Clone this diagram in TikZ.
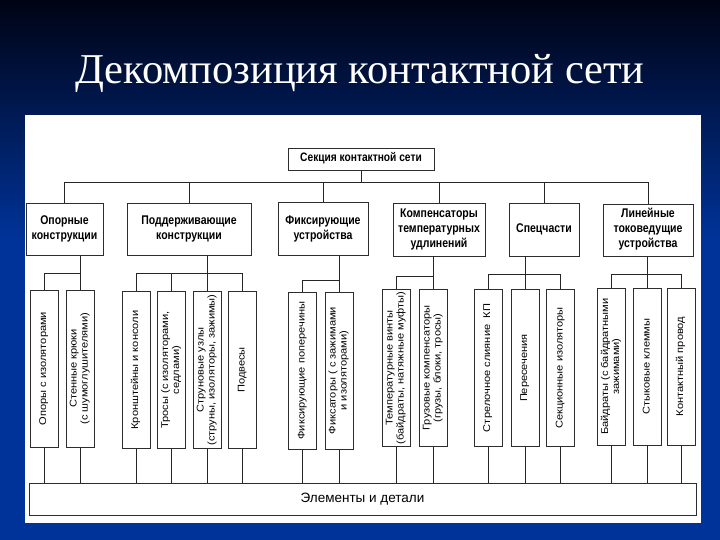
\documentclass[tikz,border=0pt]{standalone}
\usepackage{fontspec}
\usepackage{graphicx}
\setmainfont{Liberation Serif}
\newfontfamily\arialfont{Liberation Sans}
\definecolor{navytop}{RGB}{0,3,20}
\definecolor{navybot}{RGB}{0,51,153}
\definecolor{boxedge}{RGB}{45,45,45}
\newcommand{\vlabel}[1]{\rotatebox{90}{\scalebox{1.13}[1]{\begin{tabular}{@{}c@{}}#1\end{tabular}}}}
\newcommand{\hlabel}[1]{\scalebox{1}[1.2]{\begin{tabular}{@{}c@{}}#1\end{tabular}}}
\begin{document}
\begin{tikzpicture}[x=1pt,y=-1pt,
  box/.style={draw=boxedge,line width=0.8pt,fill=white,inner sep=0pt,font=\arialfont\bfseries\fontsize{10.5}{12.5}\selectfont},
  vbox/.style={draw=boxedge,line width=0.8pt,fill=white,inner sep=0pt,minimum width=28,minimum height=157,font=\arialfont\fontsize{9.8}{11}\selectfont},
  link/.style={draw=black!85,line width=0.8pt}]
 \useasboundingbox (0,0) rectangle (720,540);
 \fill[navybot] (0,0) rectangle (720,540);
 \shade[top color=navytop,bottom color=navybot] (0,0) rectangle (720,240);
 \node[text=white,anchor=base,font=\fontsize{42.5}{44}\selectfont] (title) at (360,84) {Декомпозиция контактной сети};
 \fill[white] (25,115) rectangle (701,523);
 \node[box,minimum width=146,minimum height=22,font=\arialfont\bfseries\fontsize{10.2}{12}\selectfont] (sec) at (361,159) {\hlabel{Секция контактной сети}};
 \node[box,minimum width=77,minimum height=52] (op) at (64.5,229) {\hlabel{Опорные\\конструкции}};
 \node[box,minimum width=124,minimum height=52] (sup) at (189,229) {\hlabel{Поддерживающие\\конструкции}};
 \node[box,minimum width=90,minimum height=53] (fix) at (323,229) {\hlabel{Фиксирующие\\устройства}};
 \node[box,minimum width=92,minimum height=53] (comp) at (439,229.5) {\hlabel{Компенсаторы\\температурных\\удлинений}};
 \node[box,minimum width=70,minimum height=53] (spec) at (544,229.5) {\hlabel{Спецчасти}};
 \node[box,minimum width=90,minimum height=52] (lin) at (648,230) {\hlabel{Линейные\\токоведущие\\устройства}};
 \node[vbox] (opA) at (44,368.5) {\vlabel{Опоры с изоляторами}};
 \node[vbox] (opB) at (80,368.5) {\vlabel{Стенные крюки\\(с шумоглушителями)}};
 \node[vbox] (supA) at (136,370) {\vlabel{Кронштейны и консоли}};
 \node[vbox] (supB) at (171.5,370) {\vlabel{Тросы (с изоляторами,\\седлами)}};
 \node[vbox] (supC) at (207,370) {\vlabel{Струновые узлы\\(струны, изоляторы, зажимы)}};
 \node[vbox] (supD) at (242.5,370) {\vlabel{Подвесы}};
 \node[vbox] (fixA) at (302.5,370.5) {\vlabel{Фиксирующие поперечины}};
 \node[vbox] (fixB) at (339,370.5) {\vlabel{Фиксаторы ( с зажимами\\и изоляторами)}};
 \node[vbox] (compA) at (396,368) {\vlabel{Температурные винты\\(байдраты, натяжные муфты)}};
 \node[vbox] (compB) at (433,368) {\vlabel{Грузовые компенсаторы\\(грузы, блоки, тросы)}};
 \node[vbox] (specA) at (488,368) {\vlabel{Стрелочное слияние\ \ КП}};
 \node[vbox] (specB) at (525,368) {\vlabel{Пересечения}};
 \node[vbox] (specC) at (560.5,368) {\vlabel{Секционные изоляторы}};
 \node[vbox] (linA) at (611.5,366.5) {\vlabel{Байдраты (с байдратными\\зажимами)}};
 \node[vbox] (linB) at (647.5,366.5) {\vlabel{Стыковые клеммы}};
 \node[vbox] (linC) at (681,366.5) {\vlabel{Контактный провод}};
 \node[draw=boxedge,line width=0.8pt,fill=white,minimum width=667,minimum height=32,font=\arialfont\fontsize{13.5}{15}\selectfont] (elem) at (362.5,499) {Элементы и детали};
 \coordinate (bus) at (0,182);
 \draw[link] (sec.south) -- (sec.south |- bus);
 \draw[link] (op.north) |- (lin.north |- bus) -- (lin.north);
 \foreach \n in {sup,fix,comp,spec} \draw[link] (\n.north) -- (\n.north |- bus);
 \draw[link] (opA.north) |- (opB.north |- 0,273) -- (opB.north);
 \draw[link] (op.south -| opB.north) -- (opB.north |- 0,273);
 \draw[link] (supA.north) |- (supD.north |- 0,273) -- (supD.north);
 \draw[link] (supB.north) -- (supB.north |- 0,273);
 \draw[link] (sup.south -| supC.north) -- (supC.north);
 \draw[link] (fixA.north) |- (fixB.north |- 0,280) -- (fixB.north);
 \draw[link] (fix.south -| fixB.north) -- (fixB.north |- 0,280);
 \draw[link] (compA.north) |- (compB.north |- 0,276) -- (compB.north);
 \draw[link] (comp.south -| compB.north) -- (compB.north |- 0,276);
 \draw[link] (specA.north) |- (specC.north |- 0,274) -- (specC.north);
 \draw[link] (spec.south -| specB.north) -- (specB.north);
 \draw[link] (linA.north) |- (linC.north |- 0,274) -- (linC.north);
 \draw[link] (lin.south -| linB.north) -- (linB.north);
 \foreach \n in {opA,opB,supA,supB,supC,supD,fixA,fixB,compA,compB,specA,specB,specC,linA,linB,linC}
  \draw[link] (\n.south) -- (\n.south |- elem.north);
\end{tikzpicture}
\end{document}
